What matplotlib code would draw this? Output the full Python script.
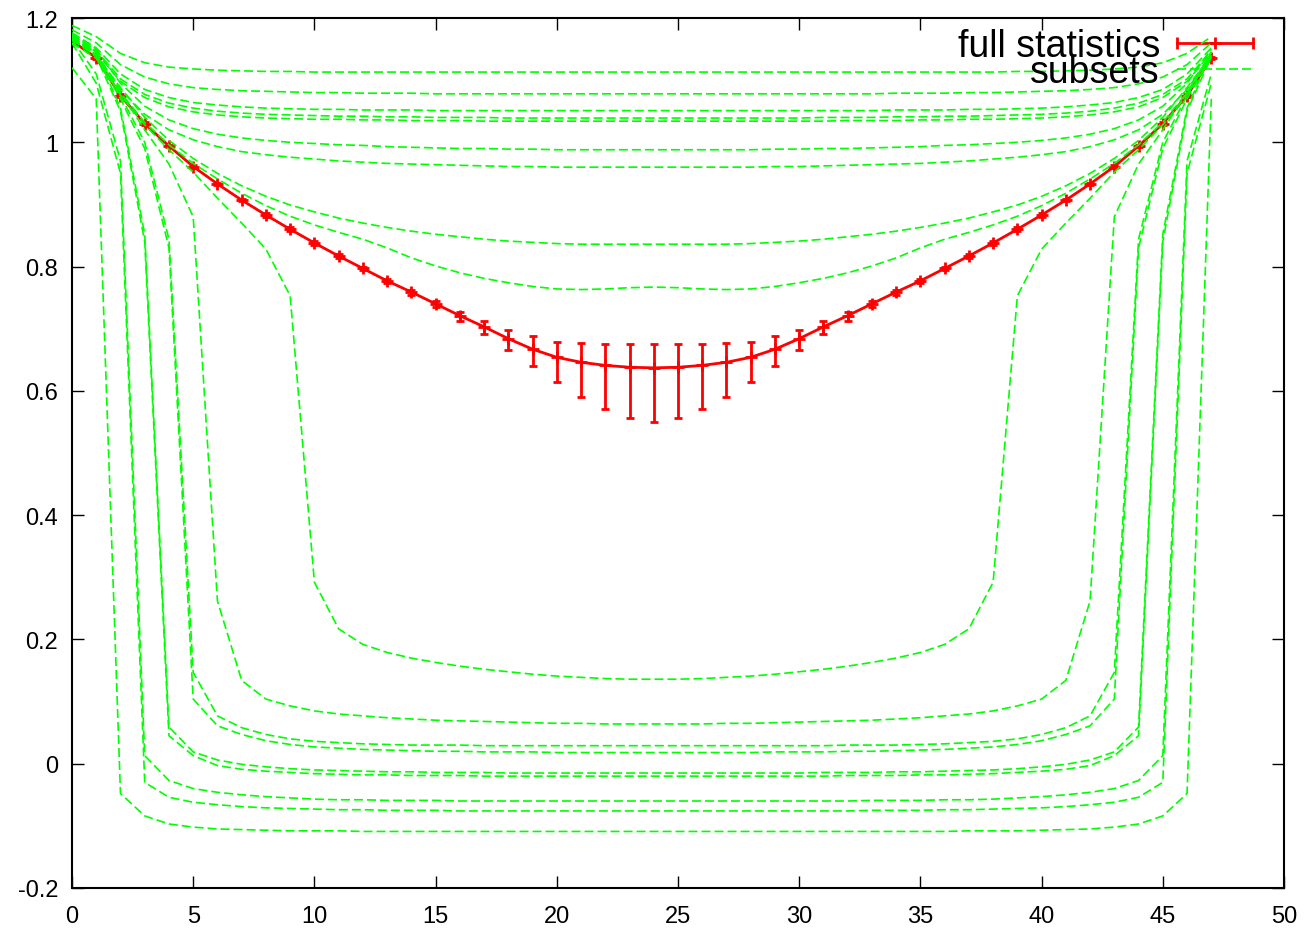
import numpy as np
import matplotlib
matplotlib.use('Agg')
import matplotlib.pyplot as plt
from matplotlib.ticker import FuncFormatter

plt.rcParams['font.family'] = ['Liberation Sans', 'DejaVu Sans']

# time slices
t = np.arange(48)

# full statistics: central values and asymmetric errors
full = [1.163, 1.136, 1.075, 1.030, 0.994, 0.961, 0.933, 0.907, 0.883, 0.860, 0.838, 0.817,
        0.797, 0.777, 0.759, 0.740, 0.721, 0.703, 0.684, 0.667, 0.654, 0.646, 0.641, 0.638,
        0.637, 0.638, 0.641, 0.646, 0.654, 0.667, 0.684, 0.703, 0.721, 0.740, 0.759, 0.777,
        0.797, 0.817, 0.838, 0.860, 0.883, 0.907, 0.933, 0.961, 0.994, 1.030, 1.075, 1.136]
err_hi = [0.002, 0.002, 0.002, 0.002, 0.002, 0.002, 0.002, 0.002, 0.003, 0.003, 0.003, 0.003,
          0.003, 0.003, 0.004, 0.004, 0.006, 0.009, 0.014, 0.021, 0.025, 0.031, 0.034, 0.037,
          0.038, 0.037, 0.034, 0.031, 0.025, 0.021, 0.014, 0.009, 0.006, 0.004, 0.004, 0.003,
          0.003, 0.003, 0.003, 0.003, 0.003, 0.002, 0.002, 0.002, 0.002, 0.002, 0.002, 0.002]
err_lo = [0.002, 0.002, 0.002, 0.002, 0.002, 0.002, 0.002, 0.002, 0.003, 0.003, 0.003, 0.003,
          0.003, 0.004, 0.004, 0.005, 0.008, 0.011, 0.018, 0.027, 0.040, 0.056, 0.071, 0.082,
          0.087, 0.082, 0.071, 0.056, 0.040, 0.027, 0.018, 0.011, 0.008, 0.005, 0.004, 0.004,
          0.003, 0.003, 0.003, 0.003, 0.003, 0.002, 0.002, 0.002, 0.002, 0.002, 0.002, 0.002]

# subsets
subset_01 = [1.188, 1.170, 1.143, 1.128, 1.121, 1.118, 1.116, 1.115, 1.114, 1.114, 1.113, 1.113,
             1.113, 1.113, 1.113, 1.113, 1.113, 1.113, 1.113, 1.113, 1.113, 1.113, 1.113, 1.113,
             1.113, 1.113, 1.113, 1.113, 1.113, 1.113, 1.113, 1.113, 1.113, 1.113, 1.113, 1.113,
             1.113, 1.113, 1.113, 1.114, 1.114, 1.115, 1.116, 1.118, 1.121, 1.128, 1.143, 1.170]
subset_02 = [1.181, 1.160, 1.125, 1.105, 1.094, 1.088, 1.085, 1.083, 1.082, 1.081, 1.080, 1.080,
             1.079, 1.079, 1.079, 1.078, 1.078, 1.078, 1.078, 1.078, 1.078, 1.078, 1.078, 1.078,
             1.078, 1.078, 1.078, 1.078, 1.078, 1.078, 1.078, 1.078, 1.078, 1.078, 1.079, 1.079,
             1.079, 1.080, 1.080, 1.081, 1.082, 1.083, 1.085, 1.088, 1.094, 1.105, 1.125, 1.160]
subset_03 = [1.176, 1.152, 1.110, 1.085, 1.072, 1.064, 1.060, 1.057, 1.055, 1.054, 1.053, 1.053,
             1.052, 1.052, 1.052, 1.051, 1.051, 1.051, 1.051, 1.051, 1.051, 1.051, 1.051, 1.051,
             1.051, 1.051, 1.051, 1.051, 1.051, 1.051, 1.051, 1.051, 1.051, 1.051, 1.052, 1.052,
             1.052, 1.053, 1.053, 1.054, 1.055, 1.057, 1.060, 1.064, 1.072, 1.085, 1.110, 1.152]
subset_04 = [1.172, 1.148, 1.102, 1.077, 1.063, 1.055, 1.050, 1.047, 1.045, 1.044, 1.043, 1.042,
             1.042, 1.041, 1.041, 1.040, 1.040, 1.040, 1.039, 1.039, 1.039, 1.039, 1.039, 1.039,
             1.039, 1.039, 1.039, 1.039, 1.039, 1.039, 1.039, 1.040, 1.040, 1.040, 1.041, 1.041,
             1.042, 1.042, 1.043, 1.044, 1.045, 1.047, 1.050, 1.055, 1.063, 1.077, 1.102, 1.148]
subset_05 = [1.168, 1.144, 1.098, 1.072, 1.057, 1.049, 1.044, 1.041, 1.039, 1.038, 1.037, 1.037,
             1.036, 1.036, 1.035, 1.035, 1.035, 1.034, 1.034, 1.034, 1.034, 1.034, 1.034, 1.034,
             1.034, 1.034, 1.034, 1.034, 1.034, 1.034, 1.034, 1.034, 1.035, 1.035, 1.035, 1.036,
             1.036, 1.037, 1.037, 1.038, 1.039, 1.041, 1.044, 1.049, 1.057, 1.072, 1.098, 1.144]
subset_06 = [1.176, 1.150, 1.095, 1.058, 1.036, 1.022, 1.013, 1.007, 1.003, 1.000, 0.998, 0.996,
             0.995, 0.993, 0.992, 0.991, 0.990, 0.990, 0.989, 0.989, 0.988, 0.988, 0.988, 0.988,
             0.988, 0.988, 0.988, 0.988, 0.988, 0.989, 0.989, 0.990, 0.990, 0.991, 0.992, 0.993,
             0.995, 0.996, 0.998, 1.000, 1.003, 1.007, 1.013, 1.022, 1.036, 1.058, 1.095, 1.150]
subset_07 = [1.166, 1.140, 1.085, 1.045, 1.020, 1.004, 0.993, 0.985, 0.980, 0.976, 0.973, 0.970,
             0.968, 0.966, 0.965, 0.964, 0.963, 0.962, 0.961, 0.961, 0.960, 0.960, 0.960, 0.960,
             0.960, 0.960, 0.960, 0.960, 0.960, 0.961, 0.961, 0.962, 0.963, 0.964, 0.965, 0.966,
             0.968, 0.970, 0.973, 0.976, 0.980, 0.985, 0.993, 1.004, 1.020, 1.045, 1.085, 1.140]
subset_08 = [1.170, 1.140, 1.088, 1.040, 1.003, 0.974, 0.950, 0.930, 0.913, 0.899, 0.888, 0.878,
             0.870, 0.863, 0.857, 0.852, 0.848, 0.844, 0.841, 0.839, 0.837, 0.836, 0.836, 0.836,
             0.836, 0.836, 0.836, 0.836, 0.837, 0.839, 0.841, 0.844, 0.848, 0.852, 0.857, 0.863,
             0.870, 0.878, 0.888, 0.899, 0.913, 0.930, 0.950, 0.974, 1.003, 1.040, 1.088, 1.140]
subset_09 = [1.165, 1.138, 1.080, 1.032, 0.996, 0.966, 0.941, 0.918, 0.898, 0.881, 0.867, 0.855,
             0.844, 0.830, 0.814, 0.801, 0.790, 0.781, 0.774, 0.768, 0.764, 0.763, 0.764, 0.766,
             0.767, 0.766, 0.764, 0.763, 0.764, 0.768, 0.774, 0.781, 0.790, 0.801, 0.814, 0.830,
             0.844, 0.855, 0.867, 0.881, 0.898, 0.918, 0.941, 0.966, 0.996, 1.032, 1.080, 1.138]
subset_10 = [1.160, 1.135, 1.076, 1.028, 0.988, 0.952, 0.910, 0.870, 0.828, 0.753, 0.292, 0.217,
             0.192, 0.179, 0.170, 0.163, 0.157, 0.152, 0.148, 0.144, 0.141, 0.139, 0.137, 0.136,
             0.136, 0.136, 0.137, 0.139, 0.141, 0.144, 0.148, 0.152, 0.157, 0.163, 0.170, 0.179,
             0.192, 0.217, 0.292, 0.753, 0.828, 0.870, 0.910, 0.952, 0.988, 1.028, 1.076, 1.135]
subset_11 = [1.165, 1.145, 1.080, 1.020, 0.965, 0.880, 0.262, 0.134, 0.104, 0.093, 0.085, 0.080,
             0.077, 0.074, 0.072, 0.070, 0.069, 0.068, 0.067, 0.066, 0.065, 0.065, 0.064, 0.064,
             0.064, 0.064, 0.064, 0.065, 0.065, 0.066, 0.067, 0.068, 0.069, 0.070, 0.072, 0.074,
             0.077, 0.080, 0.085, 0.093, 0.104, 0.134, 0.262, 0.880, 0.965, 1.020, 1.080, 1.145]
subset_12 = [1.170, 1.140, 1.070, 0.990, 0.830, 0.104, 0.061, 0.047, 0.037, 0.031, 0.027, 0.025,
             0.023, 0.022, 0.021, 0.020, 0.020, 0.019, 0.019, 0.019, 0.018, 0.018, 0.018, 0.018,
             0.018, 0.018, 0.018, 0.018, 0.018, 0.019, 0.019, 0.019, 0.020, 0.020, 0.021, 0.022,
             0.023, 0.025, 0.027, 0.031, 0.037, 0.047, 0.061, 0.104, 0.830, 0.990, 1.070, 1.140]
subset_13 = [1.172, 1.145, 1.075, 1.000, 0.844, 0.147, 0.077, 0.058, 0.047, 0.040, 0.036, 0.034,
             0.032, 0.031, 0.030, 0.030, 0.030, 0.029, 0.029, 0.029, 0.029, 0.029, 0.029, 0.029,
             0.029, 0.029, 0.029, 0.029, 0.029, 0.029, 0.029, 0.029, 0.030, 0.030, 0.030, 0.031,
             0.032, 0.034, 0.036, 0.040, 0.047, 0.058, 0.077, 0.147, 0.844, 1.000, 1.075, 1.145]
subset_14 = [1.168, 1.138, 1.050, 0.840, 0.045, 0.013, -0.003, -0.009, -0.012, -0.014, -0.016, -0.017,
             -0.018, -0.018, -0.019, -0.019, -0.019, -0.020, -0.020, -0.020, -0.020, -0.020, -0.020, -0.020,
             -0.020, -0.020, -0.020, -0.020, -0.020, -0.020, -0.020, -0.020, -0.019, -0.019, -0.019, -0.018,
             -0.018, -0.017, -0.016, -0.014, -0.012, -0.009, -0.003, 0.013, 0.045, 0.840, 1.050, 1.138]
subset_15 = [1.175, 1.145, 1.055, 0.852, 0.059, 0.019, 0.006, -0.001, -0.005, -0.008, -0.010, -0.011,
             -0.012, -0.013, -0.013, -0.014, -0.014, -0.014, -0.015, -0.015, -0.015, -0.015, -0.015, -0.015,
             -0.015, -0.015, -0.015, -0.015, -0.015, -0.015, -0.015, -0.014, -0.014, -0.014, -0.013, -0.013,
             -0.012, -0.011, -0.010, -0.008, -0.005, -0.001, 0.006, 0.019, 0.059, 0.852, 1.055, 1.145]
subset_16 = [1.165, 1.110, 0.970, 0.013, -0.027, -0.040, -0.046, -0.050, -0.053, -0.055, -0.057, -0.058,
             -0.058, -0.059, -0.059, -0.059, -0.060, -0.060, -0.060, -0.060, -0.060, -0.060, -0.060, -0.060,
             -0.060, -0.060, -0.060, -0.060, -0.060, -0.060, -0.060, -0.060, -0.060, -0.059, -0.059, -0.059,
             -0.058, -0.058, -0.057, -0.055, -0.053, -0.050, -0.046, -0.040, -0.027, 0.013, 0.970, 1.110]
subset_17 = [1.160, 1.095, 0.950, -0.030, -0.054, -0.062, -0.066, -0.069, -0.071, -0.072, -0.073, -0.074,
             -0.074, -0.075, -0.075, -0.075, -0.076, -0.076, -0.076, -0.076, -0.076, -0.076, -0.076, -0.076,
             -0.076, -0.076, -0.076, -0.076, -0.076, -0.076, -0.076, -0.076, -0.076, -0.075, -0.075, -0.075,
             -0.074, -0.074, -0.073, -0.072, -0.071, -0.069, -0.066, -0.062, -0.054, -0.030, 0.950, 1.095]
subset_18 = [1.120, 1.070, -0.048, -0.084, -0.097, -0.102, -0.105, -0.106, -0.107, -0.108, -0.108, -0.108,
             -0.109, -0.109, -0.109, -0.109, -0.109, -0.109, -0.109, -0.109, -0.109, -0.109, -0.109, -0.109,
             -0.109, -0.109, -0.109, -0.109, -0.109, -0.109, -0.109, -0.109, -0.109, -0.109, -0.109, -0.109,
             -0.109, -0.108, -0.108, -0.108, -0.107, -0.106, -0.105, -0.102, -0.097, -0.084, -0.048, 1.070]

subsets = [subset_01, subset_02, subset_03, subset_04, subset_05, subset_06,
           subset_07, subset_08, subset_09, subset_10, subset_11, subset_12,
           subset_13, subset_14, subset_15, subset_16, subset_17, subset_18]

fig = plt.figure(figsize=(13.08, 9.29), dpi=100)
ax = fig.add_axes([72 / 1308, 1 - 889 / 929, 1212 / 1308, 870 / 929])

red = '#ff0000'
green = '#00ff00'
dash = (0, (5.4, 2.4))

# full statistics (drawn first, subsets on top)
ax.errorbar(t, full, yerr=[err_lo, err_hi], color=red, lw=2.0, elinewidth=2.0,
            capsize=3.2, capthick=2.0, marker='+', ms=9, mew=2, zorder=2)

for s in subsets:
    ax.plot(t, s, color=green, lw=1.2, ls=dash, zorder=3)

ax.set_xlim(0, 50)
ax.set_ylim(-0.2, 1.2)
ax.set_xticks(np.arange(0, 51, 5))
ax.set_yticks(np.linspace(-0.2, 1.2, 8))
ax.yaxis.set_major_formatter(FuncFormatter(lambda v, p: '%g' % (round(v, 2) + 0.0)))
ax.tick_params(direction='in', length=8.6, width=1.0, top=True, right=True,
               labelsize=17)
ax.tick_params(axis='y', pad=10)
ax.tick_params(axis='x', pad=12)
for sp in ax.spines.values():
    sp.set_linewidth(1.5)

# key, gnuplot style
tr = ax.transAxes
kx0, kx1 = (1177 - 72) / 1212, (1253 - 72) / 1212
ax.text(0.8977, 0.9567, 'full statistics', ha='right', va='baseline', fontsize=27, transform=tr)
ax.text(0.8977, 0.9264, 'subsets', ha='right', va='baseline', fontsize=27, transform=tr)
ky1 = (889 - 44) / 870
ax.plot([kx0, kx1], [ky1, ky1], color=red, lw=2.0, transform=tr, clip_on=False, zorder=2)
ax.plot([kx0, kx1], [ky1, ky1], ls='none', marker='|', ms=8.5, mew=2, color=red,
        transform=tr, clip_on=False, zorder=2)
ax.plot([(kx0 + kx1) / 2], [ky1], ls='none', marker='+', ms=9, mew=2, color=red,
        transform=tr, clip_on=False, zorder=2)
ky2 = (889 - 70) / 870
ax.plot([kx0, kx1], [ky2, ky2], color=green, lw=1.2, ls=dash, transform=tr,
        clip_on=False, zorder=3)

fig.savefig('out.png', dpi=100)
